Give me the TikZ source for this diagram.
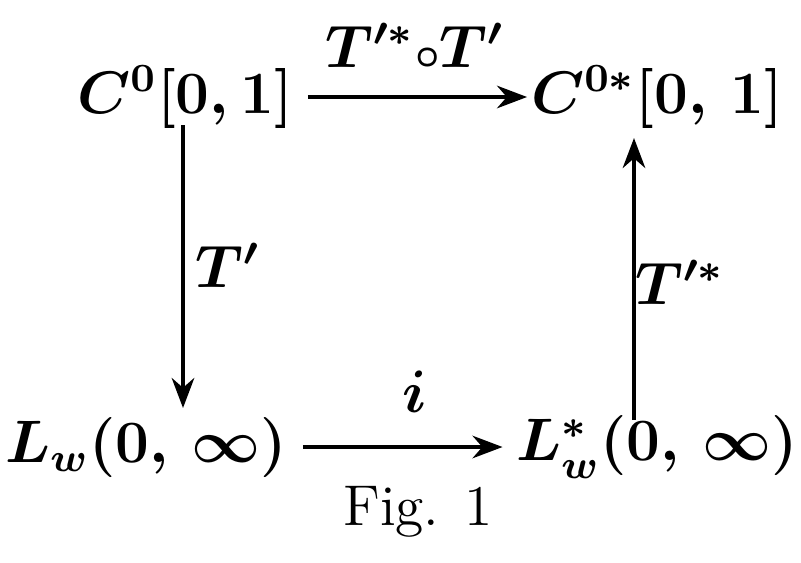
\documentclass[tikz,border=0pt]{standalone}
\usetikzlibrary{arrows.meta}
\begin{document}
\begin{tikzpicture}[x=0.2pt,y=-0.2pt,
  obj/.style={inner sep=0pt,font=\fontsize{11.5}{14}\selectfont\boldmath},
  lab/.style={inner sep=0pt,font=\fontsize{11.5}{14}\selectfont\boldmath},
  arr/.style={-{Stealth[length=6pt,width=4.5pt]},line width=0.8pt}]
\useasboundingbox (0,0) rectangle (801,562);
\node[obj] (A) at (185,97) {$C^0[0,1]$};
\node[obj] (B) at (657,97) {$C^{0*}[0,\,1]$};
\node[obj] (C) at (146,447) {$L_w(0,\,\infty)$};
\node[obj] (D) at (657,447) {$L_w^*(0,\,\infty)$};
\coordinate (Atop) at (183,125);
\coordinate (Cbot) at (183,408);
\coordinate (Dtop) at (634,420);
\coordinate (Bbot) at (634,138);
\draw[arr,shorten <=2.8pt,shorten >=0.6pt] (A.east) -- (B.west);
\node[lab] (l1) at (415,45) {$T'^{*}{\scriptstyle\circ}T'$};
\draw[arr] (Atop) -- (Cbot);
\node[lab] (l2) at (228,265) {$T'$};
\draw[arr,shorten <=3pt,shorten >=2.5pt] (C.east) -- (C.east -| D.west);
\node[lab] (l3) at (415,392) {$i$};
\draw[arr] (Dtop) -- (Bbot);
\node[lab] (l4) at (680,282) {$T'^{*}$};
\node[obj] (fig) at (418,512) {Fig. 1};
\end{tikzpicture}
\end{document}
